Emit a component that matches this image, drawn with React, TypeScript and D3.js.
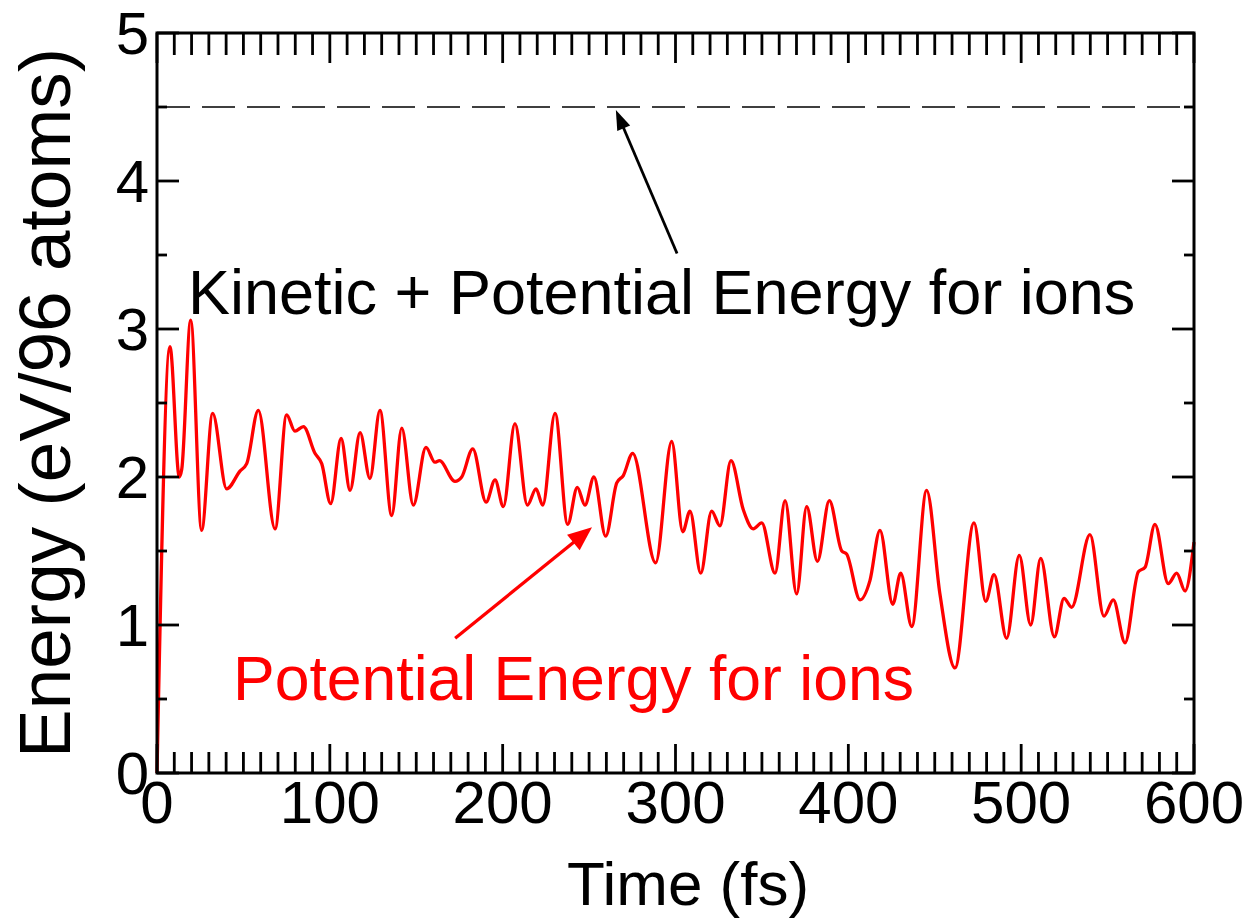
import React from "react";
import * as d3 from "d3";

// potential energy for ions
const timeFs = [
  0, 7.5, 12.9, 14.3, 19.5, 25.8, 32.2, 40.3, 48, 51.9, 58.6, 68.3, 75, 79.8, 84.7,
  91.4, 95.3, 100.5, 106.5, 111.7, 117.5, 123.2, 129, 135.8, 141.6, 148.3, 155.6,
  160.8, 163.4, 172.4, 176.3, 182.7, 190.4, 195.6, 200.4, 207.1, 214.3, 219.3, 223.2,
  230.3, 237.6, 243.2, 247.6, 252.8, 259.6, 266, 269.8, 275.2, 288.5, 297.8, 304.2,
  308.4, 314.6, 320.9, 325.7, 332.1, 339.2, 345, 349.9, 357.6, 363.4, 370.1, 375.9,
  382.1, 389, 396.2, 399, 406.8, 412.5, 418.3, 425.7, 430.3, 436.7, 445.3, 453,
  461.7, 472.7, 479.5, 484.3, 491.6, 498.9, 505.5, 511.3, 519.2, 524.8, 529.2, 539.8,
  547.9, 553.3, 560.1, 567.8, 571.7, 577.4, 585.1, 590, 594.8, 600,
];
const potential = [
  0, 2.88, 2.0, 2.05, 3.06, 1.64, 2.43, 1.92, 2.04, 2.09, 2.45, 1.65, 2.42, 2.31, 2.34,
  2.16, 2.09, 1.82, 2.26, 1.91, 2.3, 1.99, 2.45, 1.74, 2.33, 1.81, 2.2,
  2.1, 2.11, 1.97, 2.0, 2.19, 1.83, 1.98, 1.8, 2.36, 1.81, 1.92, 1.81,
  2.43, 1.68, 1.93, 1.81, 2.0, 1.6, 1.96, 2.01, 2.16, 1.42, 2.24, 1.63,
  1.77, 1.35, 1.77, 1.67, 2.11, 1.78, 1.65, 1.69, 1.35, 1.84, 1.21, 1.8,
  1.43, 1.84, 1.5, 1.48, 1.17, 1.3, 1.64, 1.14, 1.35, 0.99, 1.91, 1.21,
  0.71, 1.69, 1.16, 1.34, 0.91, 1.47, 1.0, 1.45, 0.92, 1.18, 1.12, 1.61,
  1.06, 1.17, 0.88, 1.36, 1.39, 1.68, 1.28, 1.35, 1.23, 1.56,
];
// kinetic + potential stays flat
const totalTime = [0, 600];
const totalEnergy = [4.5, 4.5];

const xTicks = [0, 100, 200, 300, 400, 500, 600];
const yTicks = [0, 1, 2, 3, 4, 5];

const font = "'Liberation Sans', Arial, Helvetica, sans-serif";

function arrowPath(x1, y1, x2, y2, len, half) {
  const dx = x2 - x1;
  const dy = y2 - y1;
  const d = Math.sqrt(dx * dx + dy * dy);
  const ux = dx / d;
  const uy = dy / d;
  const bx = x2 - ux * len;
  const by = y2 - uy * len;
  return {
    shaft: `M${x1},${y1}L${bx + ux * 2},${by + uy * 2}`,
    head: `M${x2},${y2}L${bx - uy * half},${by + ux * half}L${bx + uy * half},${by - ux * half}Z`,
  };
}

export default function App() {
  const width = 1255;
  const height = 920;
  const x = d3.scaleLinear().domain([0, 600]).range([157, 1194]);
  const y = d3.scaleLinear().domain([0, 5]).range([773, 33]);
  const [x0, x1] = x.range();
  const [y0, y1] = y.range();

  const line = d3
    .line<number>()
    .x((_, i) => x(timeFs[i]))
    .y((d) => y(d))
    .curve(d3.curveMonotoneX);

  const flat = d3
    .line<number>()
    .x((_, i) => x(totalTime[i]))
    .y((d) => y(d));

  const minorX = d3.range(0, 601, 10).filter((t) => t % 100 !== 0);
  const minorY = d3.range(0.5, 5, 1);

  const blackArrow = arrowPath(x(300.9), y(3.51), x(265.5), y(4.48), 20, 7);
  const redArrow = arrowPath(x(172.5), y(0.91), x(251.7), y(1.66), 24, 10);

  return (
    <svg
      width={width}
      height={height}
      style={{ position: "absolute", left: 0, top: 0, background: "#fff" }}
      fontFamily={font}
    >
      <path
        d={flat(totalEnergy) || ""}
        fill="none"
        stroke="#000"
        strokeWidth={1.6}
        strokeDasharray="33 12"
      />
      <path
        d={line(potential) || ""}
        fill="none"
        stroke="#ff0000"
        strokeWidth={3.3}
        strokeLinejoin="round"
      />

      {/* ticks, all pointing inward */}
      <g stroke="#000" strokeWidth={2.8}>
        {minorX.map((t) => (
          <g key={"mx" + t}>
            <line x1={x(t)} x2={x(t)} y1={y0} y2={y0 - 21} />
            <line x1={x(t)} x2={x(t)} y1={y1} y2={y1 + 22} />
          </g>
        ))}
        {xTicks.map((t) => (
          <g key={"Mx" + t}>
            <line x1={x(t)} x2={x(t)} y1={y0} y2={y0 - 29} />
            <line x1={x(t)} x2={x(t)} y1={y1} y2={y1 + 30} />
          </g>
        ))}
        {minorY.map((v) => (
          <g key={"my" + v}>
            <line x1={x0} x2={x0 + 10} y1={y(v)} y2={y(v)} />
            <line x1={x1} x2={x1 - 10} y1={y(v)} y2={y(v)} />
          </g>
        ))}
        {yTicks.map((v) => (
          <g key={"My" + v}>
            <line x1={x0} x2={x0 + 22} y1={y(v)} y2={y(v)} />
            <line x1={x1} x2={x1 - 22} y1={y(v)} y2={y(v)} />
          </g>
        ))}
      </g>
      <rect
        x={x0}
        y={y1}
        width={x1 - x0}
        height={y0 - y1}
        fill="none"
        stroke="#000"
        strokeWidth={3}
      />

      <g fontSize={60} fill="#000">
        {xTicks.map((t) => (
          <text key={"lx" + t} x={x(t)} y={y0 + 50} textAnchor="middle">
            {t}
          </text>
        ))}
        {yTicks.map((v) => (
          <text key={"ly" + v} x={x0 - 8} y={y(v) + 21} textAnchor="end">
            {v}
          </text>
        ))}
      </g>

      <text x={688} y={905} fontSize={62} textAnchor="middle">
        Time (fs)
      </text>
      <text
        transform={`translate(70,${(y0 + y1) / 2}) rotate(-90)`}
        fontSize={73}
        textAnchor="middle"
      >
        Energy (eV/96 atoms)
      </text>

      <text x={188} y={314} fontSize={63} fill="#000">
        Kinetic + Potential Energy for ions
      </text>
      <text x={233} y={700} fontSize={62.5} fill="#ff0000">
        Potential Energy for ions
      </text>

      <path d={blackArrow.shaft} stroke="#000" strokeWidth={2.8} />
      <path d={blackArrow.head} fill="#000" />
      <path d={redArrow.shaft} stroke="#ff0000" strokeWidth={3.3} />
      <path d={redArrow.head} fill="#ff0000" />
    </svg>
  );
}
